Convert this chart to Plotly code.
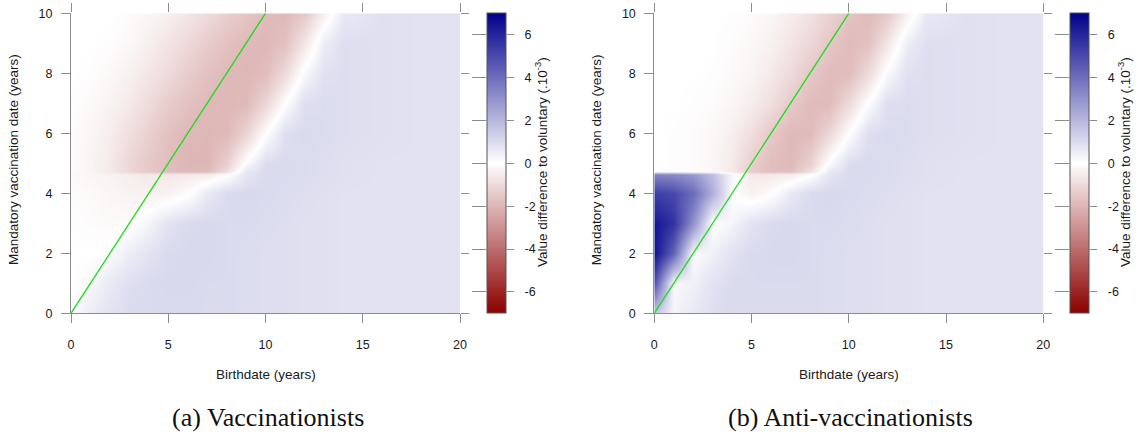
import plotly.graph_objects as go

# ---------------- data ----------------
birthdate = [0, 1, 2, 3, 4, 5, 6, 7, 8, 9, 10, 11, 12, 13, 14, 16, 18, 20]
mandatory_date = [0, 1, 2, 3, 4, 4.65, 4.75, 5, 6, 7, 8, 9, 10]

# value difference to voluntary (x 1e-3), rows = mandatory date, cols = birthdate
value_diff_vaccinationists = [
    [0.1, 0.5, 0.8, 1.0, 1.0, 1.0, 1.0, 1.0, 1.0, 0.95, 0.9, 0.9, 0.85, 0.85, 0.8, 0.8, 0.8, 0.8],
    [0.0, 0.2, 0.6, 0.9, 1.0, 1.05, 1.05, 1.0, 1.0, 0.95, 0.9, 0.9, 0.85, 0.85, 0.8, 0.8, 0.8, 0.8],
    [0.0, 0.0, 0.1, 0.5, 0.8, 1.0, 1.05, 1.05, 1.0, 0.95, 0.9, 0.9, 0.85, 0.85, 0.8, 0.8, 0.8, 0.8],
    [-0.05, -0.1, -0.15, -0.1, 0.3, 0.8, 1.0, 1.05, 1.0, 1.0, 0.95, 0.9, 0.85, 0.85, 0.8, 0.8, 0.8, 0.8],
    [-0.1, -0.15, -0.25, -0.35, -0.4, -0.35, -0.05, 0.6, 1.0, 1.05, 1.0, 0.95, 0.9, 0.85, 0.8, 0.8, 0.8, 0.8],
    [-0.15, -0.25, -0.35, -0.5, -0.6, -0.65, -0.6, -0.5, -0.05, 0.7, 1.0, 1.0, 0.95, 0.9, 0.85, 0.8, 0.8, 0.8],
    [-0.1, -0.3, -0.6, -1.1, -1.5, -1.8, -1.9, -1.9, -0.9, 0.6, 1.0, 1.0, 0.95, 0.9, 0.85, 0.8, 0.8, 0.8],
    [-0.1, -0.3, -0.6, -1.1, -1.5, -1.8, -2.0, -2.0, -1.3, 0.1, 0.95, 1.0, 0.95, 0.9, 0.85, 0.8, 0.8, 0.8],
    [-0.1, -0.25, -0.5, -0.9, -1.3, -1.7, -1.95, -2.0, -1.9, -1.2, 0.0, 0.9, 1.0, 0.95, 0.9, 0.85, 0.8, 0.8],
    [-0.05, -0.15, -0.35, -0.6, -1.0, -1.4, -1.7, -1.9, -2.0, -1.9, -1.1, 0.0, 0.9, 0.95, 0.9, 0.85, 0.8, 0.8],
    [0.0, -0.05, -0.2, -0.4, -0.7, -1.0, -1.4, -1.7, -1.9, -2.0, -1.8, -1.0, 0.15, 0.85, 0.9, 0.85, 0.8, 0.8],
    [0.0, 0.0, -0.05, -0.2, -0.45, -0.75, -1.05, -1.4, -1.7, -1.9, -1.95, -1.7, -0.7, 0.5, 0.9, 0.85, 0.8, 0.8],
    [0.0, 0.0, 0.0, -0.1, -0.25, -0.45, -0.7, -1.0, -1.3, -1.6, -1.85, -1.9, -1.5, -0.4, 0.6, 0.85, 0.8, 0.8],
]

value_diff_anti_vaccinationists = [
    [1.5, 0.3, 0.6, 0.9, 1.0, 1.0, 1.0, 1.0, 1.0, 0.95, 0.9, 0.9, 0.85, 0.85, 0.8, 0.8, 0.8, 0.8],
    [4.8, 0.2, 0.4, 0.8, 1.0, 1.0, 1.0, 1.0, 1.0, 0.95, 0.9, 0.9, 0.85, 0.85, 0.8, 0.8, 0.8, 0.8],
    [6.5, 4.3, 0.1, 0.4, 0.8, 1.0, 1.05, 1.05, 1.0, 0.95, 0.9, 0.9, 0.85, 0.85, 0.8, 0.8, 0.8, 0.8],
    [6.4, 5.6, 3.0, 0.0, 0.3, 0.8, 1.0, 1.05, 1.0, 1.0, 0.95, 0.9, 0.85, 0.85, 0.8, 0.8, 0.8, 0.8],
    [5.3, 5.0, 4.0, 2.2, 0.0, -0.35, -0.05, 0.6, 1.0, 1.05, 1.0, 0.95, 0.9, 0.85, 0.8, 0.8, 0.8, 0.8],
    [3.4, 3.2, 2.8, 1.8, 0.2, -0.6, -0.6, -0.5, -0.05, 0.7, 1.0, 1.0, 0.95, 0.9, 0.85, 0.8, 0.8, 0.8],
    [-0.05, -0.05, -0.1, -0.2, -0.6, -1.4, -1.8, -1.8, -0.9, 0.6, 1.0, 1.0, 0.95, 0.9, 0.85, 0.8, 0.8, 0.8],
    [0.0, -0.05, -0.1, -0.25, -0.6, -1.3, -1.8, -1.9, -1.3, 0.1, 0.95, 1.0, 0.95, 0.9, 0.85, 0.8, 0.8, 0.8],
    [0.0, -0.05, -0.1, -0.2, -0.45, -0.9, -1.5, -1.9, -1.85, -1.1, 0.0, 0.9, 1.0, 0.95, 0.9, 0.85, 0.8, 0.8],
    [0.0, 0.0, -0.05, -0.1, -0.25, -0.5, -0.9, -1.45, -1.85, -1.85, -1.0, 0.05, 0.9, 0.95, 0.9, 0.85, 0.8, 0.8],
    [0.0, 0.0, 0.0, -0.05, -0.15, -0.3, -0.6, -1.0, -1.5, -1.85, -1.8, -1.0, 0.15, 0.85, 0.9, 0.85, 0.8, 0.8],
    [0.0, 0.0, 0.0, 0.0, -0.1, -0.2, -0.4, -0.7, -1.1, -1.55, -1.85, -1.7, -0.7, 0.5, 0.9, 0.85, 0.8, 0.8],
    [0.0, 0.0, 0.0, 0.0, -0.05, -0.1, -0.25, -0.5, -0.8, -1.2, -1.65, -1.85, -1.5, -0.4, 0.6, 0.85, 0.8, 0.8],
]

diagonal_x = [0, 10]
diagonal_y = [0, 10]

x_ticks = [0, 5, 10, 15, 20]
y_ticks = [0, 2, 4, 6, 8, 10]
cb_ticks = [-6, -4, -2, 0, 2, 4, 6]
cb_ticktext = ["-6", "-4", "-2", "0", "2", "4", "6"]
z_range = [-7, 7]

captions = ["(a) Vaccinationists", "(b) Anti-vaccinationists"]
x_title = "Birthdate (years)"
y_title = "Mandatory vaccination date (years)"
cb_title = "Value difference to voluntary (.10<sup>-3</sup>)"

# ---------------- layout geometry (pixels) ----------------
W, H = 1137, 437
def fx(px):
    return px / W
def fy(py):
    return 1 - py / H

plot_left = [71.0, 654.3]
plot_w = 389.0
plot_top, plot_bottom = 13.3, 313.3
cb_left = [487.0, 1070.3]
cb_w = 19.0
cb_title_x = [541.0, 1124.0]

axis_col = "#8c8c8c"
txt_col = "#1a1a1a"
sans = "Liberation Sans, Arial, sans-serif"
serif = "Liberation Serif, Times New Roman, serif"

colorscale = [[0.0, "#8B0000"], [0.5, "#FFFFFF"], [1.0, "#00008B"]]

fig = go.Figure()
layout = dict(
    width=W, height=H, margin=dict(l=0, r=0, t=0, b=0, pad=0, autoexpand=False),
    autosize=False,
    paper_bgcolor="white", plot_bgcolor="white", template="none",
    showlegend=False, font=dict(family=sans, size=12.5, color=txt_col),
)
annotations = []

panels = [value_diff_vaccinationists, value_diff_anti_vaccinationists]
for i, zdata in enumerate(panels):
    xm, ym = ("x", "y") if i == 0 else ("x2", "y2")
    xm_l, ym_l = ("xaxis", "yaxis") if i == 0 else ("xaxis2", "yaxis2")
    n_top = 3 + i          # top tick overlay x axis
    n_right = 3 + i        # right tick overlay y axis
    n_cbx = 5 + i          # colorbar helper x axis
    n_cby_l = 5 + 2 * i    # colorbar left ticks
    n_cby_r = 6 + 2 * i    # colorbar right labels

    xdom = [fx(plot_left[i]), fx(plot_left[i] + plot_w)]
    ydom = [fy(plot_bottom), fy(plot_top)]

    fig.add_trace(go.Heatmap(
        x=birthdate, y=mandatory_date, z=zdata, xaxis=xm, yaxis=ym,
        zmin=z_range[0], zmax=z_range[1], colorscale=colorscale, zsmooth="best",
        hoverinfo="skip",
        colorbar=dict(
            x=fx(cb_left[i]), xanchor="left", xpad=0, ypad=0,
            y=fy((plot_top + plot_bottom) / 2), yanchor="middle",
            len=plot_bottom - plot_top, lenmode="pixels",
            thickness=cb_w, thicknessmode="pixels",
            outlinewidth=1, outlinecolor="#555555", borderwidth=0,
            ticks="", showticklabels=False,
        ),
    ))
    fig.add_trace(go.Scatter(
        x=diagonal_x, y=diagonal_y, xaxis=xm, yaxis=ym, mode="lines",
        line=dict(color="#1fdc1f", width=1.3), hoverinfo="skip",
    ))

    common = dict(showgrid=False, zeroline=False, automargin=False, fixedrange=True,
                  tickcolor=axis_col, tickwidth=1)
    layout[xm_l] = dict(
        domain=xdom, anchor=ym, range=[0, 20], tickmode="array", tickvals=x_ticks,
        ticks="outside", ticklen=9, showline=True, linecolor=axis_col, linewidth=1,
        tickfont=dict(family=sans, size=12.5, color=txt_col), ticklabelstandoff=11, **common)
    layout[ym_l] = dict(
        domain=ydom, anchor=xm, range=[0, 10], tickmode="array", tickvals=y_ticks,
        ticks="outside", ticklen=9, showline=True, linecolor=axis_col, linewidth=1,
        tickfont=dict(family=sans, size=12.5, color=txt_col), ticklabelstandoff=6, **common)
    # top ticks (no line)
    layout[f"xaxis{n_top}"] = dict(
        overlaying=xm, anchor=ym, side="top", range=[0, 20], tickmode="array",
        tickvals=x_ticks, ticks="outside", ticklen=9, showticklabels=False,
        showline=False, **common)
    # right ticks (no line)
    layout[f"yaxis{n_right}"] = dict(
        overlaying=ym, anchor=xm, side="right", range=[0, 10], tickmode="array",
        tickvals=y_ticks, ticks="outside", ticklen=8, showticklabels=False,
        showline=False, **common)
    fig.add_trace(go.Scatter(x=[None], y=[None], xaxis=f"x{n_top}", yaxis=ym,
                             mode="markers", hoverinfo="skip"))
    fig.add_trace(go.Scatter(x=[None], y=[None], xaxis=xm, yaxis=f"y{n_right}",
                             mode="markers", hoverinfo="skip"))

    # colorbar tick axes
    layout[f"xaxis{n_cbx}"] = dict(
        domain=[fx(cb_left[i]), fx(cb_left[i] + cb_w)], anchor=f"y{n_cby_l}",
        range=[0, 1], visible=False, showgrid=False, zeroline=False,
        automargin=False, fixedrange=True)
    layout[f"yaxis{n_cby_l}"] = dict(
        domain=ydom, anchor=f"x{n_cbx}", side="left", range=z_range, tickmode="array",
        tickvals=cb_ticks, ticks="outside", ticklen=14, showticklabels=False,
        showline=False, **common)
    layout[f"yaxis{n_cby_r}"] = dict(
        domain=ydom, anchor=f"x{n_cbx}", overlaying=f"y{n_cby_l}", side="right",
        range=z_range, tickmode="array", tickvals=cb_ticks, ticktext=cb_ticktext,
        ticks="outside", ticklen=7, showticklabels=True, showline=False,
        tickfont=dict(family=sans, size=12.5, color=txt_col), ticklabelstandoff=8, **common)
    fig.add_trace(go.Scatter(x=[None], y=[None], xaxis=f"x{n_cbx}", yaxis=f"y{n_cby_l}",
                             mode="markers", hoverinfo="skip"))
    fig.add_trace(go.Scatter(x=[None], y=[None], xaxis=f"x{n_cbx}", yaxis=f"y{n_cby_r}",
                             mode="markers", hoverinfo="skip"))

    # titles
    cx = plot_left[i] + plot_w / 2
    annotations.append(dict(
        text=x_title, x=fx(cx), y=fy(374), xref="paper", yref="paper",
        xanchor="center", yanchor="middle", showarrow=False,
        font=dict(family=sans, size=13.5, color=txt_col)))
    annotations.append(dict(
        text=y_title, x=fx(plot_left[i] - 57), y=fy(160), xref="paper", yref="paper",
        xanchor="center", yanchor="middle", showarrow=False, textangle=-90,
        font=dict(family=sans, size=13.5, color=txt_col)))
    annotations.append(dict(
        text=cb_title, x=fx(cb_title_x[i]), y=fy(162), xref="paper", yref="paper",
        xanchor="center", yanchor="middle", showarrow=False, textangle=-90,
        font=dict(family=sans, size=13.5, color=txt_col)))
    annotations.append(dict(
        text=captions[i], x=fx(cx + 2), y=fy(417), xref="paper", yref="paper",
        xanchor="center", yanchor="middle", showarrow=False,
        font=dict(family=serif, size=26, color="#111111")))

layout["annotations"] = annotations
fig.update_layout(**layout)
fig.write_html("out.html", config={"displayModeBar": False},
               post_script="document.body.style.margin='0';document.body.style.padding='0';")
